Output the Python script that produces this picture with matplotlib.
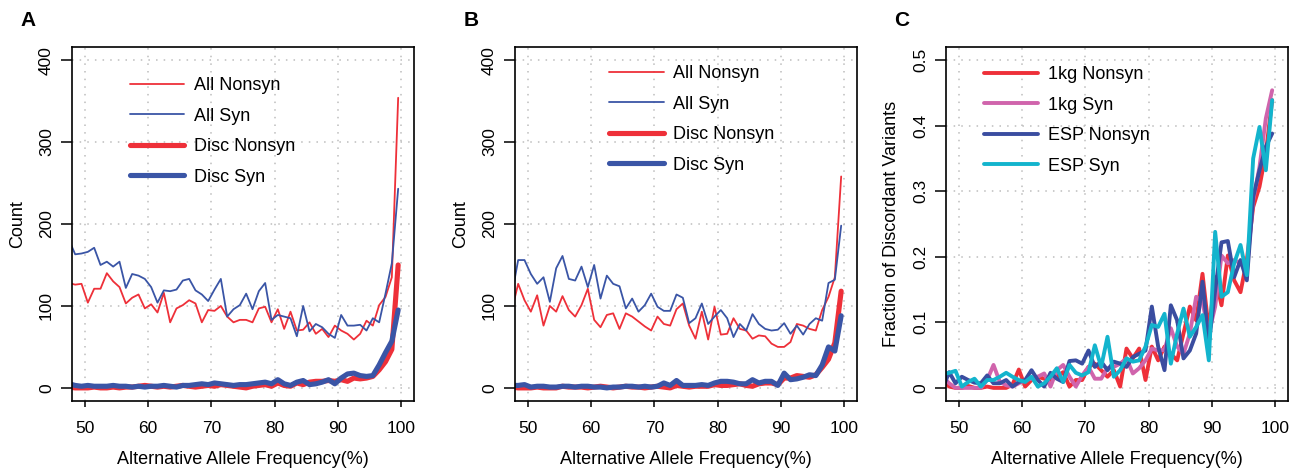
import numpy as np
import matplotlib
matplotlib.use("Agg")
import matplotlib.pyplot as plt
from matplotlib.ticker import FuncFormatter

plt.rcParams['font.family'] = ['Liberation Sans', 'DejaVu Sans']

# allele frequency bins (%)
freq = np.arange(47.5, 100, 1.0)

# ---- Panel A ----
a_all_nonsyn = [128, 126, 127, 104, 121, 121, 140, 130, 123, 103, 110,
                114, 97, 102, 92, 116, 80, 97, 101, 107, 103,
                80, 95, 94, 100, 87, 80, 83, 83, 80, 97,
                99, 80, 96, 72, 93, 70, 71, 80, 66, 72,
                62, 76, 70, 66, 59, 66, 82, 76, 101, 111,
                135, 354]
a_all_syn = [181, 163, 164, 166, 171, 150, 154, 148, 154, 122, 139,
             137, 133, 123, 104, 119, 118, 120, 131, 133, 119,
             114, 106, 120, 133, 87, 96, 101, 115, 96, 118,
             128, 83, 89, 87, 85, 63, 100, 69, 78, 74,
             66, 61, 89, 76, 76, 77, 70, 85, 80, 115,
             152, 243]
a_disc_nonsyn = [1, 0, 0, 0, 1, 0, 0, 1, 0, 1, 1,
                 2, 3, 2, 1, 2, 1, 2, 3, 2, 1,
                 2, 3, 2, 4, 3, 2, 1, 0, 2, 3,
                 4, 2, 6, 3, 2, 6, 4, 7, 8, 8,
                 9, 8, 10, 8, 12, 11, 12, 14, 22, 32,
                 47, 150]
a_disc_syn = [5, 3, 2, 3, 2, 2, 2, 3, 2, 2, 1,
              2, 1, 2, 2, 3, 2, 1, 3, 3, 4,
              5, 4, 6, 5, 4, 3, 4, 4, 5, 6,
              7, 5, 10, 5, 3, 7, 9, 4, 5, 7,
              10, 5, 12, 17, 18, 15, 14, 15, 28, 43,
              57, 95]

# ---- Panel B ----
b_all_nonsyn = [95, 127, 107, 93, 113, 76, 100, 93, 112, 95, 87,
                101, 121, 83, 74, 89, 91, 72, 91, 87, 81,
                75, 70, 87, 78, 76, 96, 103, 76, 60, 93,
                59, 99, 65, 66, 85, 72, 70, 60, 64, 63,
                54, 50, 50, 56, 78, 76, 72, 70, 95, 111,
                135, 258]
b_all_syn = [114, 156, 156, 139, 127, 135, 105, 146, 161, 133, 131,
             148, 123, 150, 109, 137, 127, 124, 97, 109, 93,
             101, 115, 99, 94, 94, 114, 110, 79, 85, 103,
             78, 87, 95, 85, 62, 78, 70, 90, 78, 72,
             70, 71, 79, 66, 76, 65, 78, 85, 82, 128,
             132, 198]
b_disc_nonsyn = [1, 0, 0, 0, 1, 0, 0, 0, 2, 1, 1,
                 1, 0, 1, 2, 1, 0, 1, 2, 1, 1,
                 0, 1, 2, 1, 0, 3, 2, 1, 2, 2,
                 2, 4, 3, 3, 4, 5, 3, 2, 5, 6,
                 6, 4, 12, 12, 15, 14, 13, 16, 25, 35,
                 55, 118]
b_disc_syn = [3, 3, 4, 1, 2, 2, 1, 1, 2, 2, 1,
              2, 2, 1, 1, 0, 1, 1, 2, 2, 1,
              2, 1, 2, 6, 3, 9, 3, 3, 3, 4,
              3, 6, 8, 8, 7, 5, 5, 10, 6, 8,
              8, 3, 18, 10, 11, 13, 16, 15, 28, 50,
              45, 88]

# ---- Panel C (fraction of discordant variants) ----
c_1kg_nonsyn = [.012, .002, 0, 0, .003, 0, 0, .002, 0, 0, 0,
                .005, .028, .002, .012, .017, .014, .012, .017, .024, .002,
                .012, .012, .032, .037, .027, .017, .027, .002, .060, .045,
                .060, .012, .063, .042, .063, .052, .042, .083, .124, .103,
                .174, .088, .169, .126, .202, .164, .146, .195, .276, .307,
                .358, .439]
c_1kg_syn = [.017, .007, 0, 0, 0, 0, 0, .012, .035, .009, .004,
             .002, .007, .012, .014, .017, .022, .002, .027, .035, .017,
             .002, .019, .032, .014, .014, .030, .032, .037, .045, .022,
             .030, .042, .060, .057, .058, .091, .063, .052, .083, .139,
             .131, .083, .124, .202, .190, .195, .190, .180, .286, .337,
             .411, .454]
c_esp_nonsyn = [0, .024, .007, .017, .012, .008, .007, .019, .007, .007, .012,
                .002, .009, .012, .027, .012, .002, .023, .014, .009, .041,
                .042, .037, .057, .032, .040, .027, .040, .037, .032, .047,
                .052, .057, .124, .063, .027, .126, .103, .045, .057, .083,
                .162, .068, .149, .222, .224, .169, .195, .164, .291, .332,
                .368, .388]
c_esp_syn = [.021, .023, .026, .002, .009, .014, .002, .012, .012, .017, .023,
             .017, .012, .009, .017, .002, .007, .017, .030, .009, .035,
             .023, .019, .024, .065, .032, .078, .017, .027, .045, .040,
             .042, .063, .096, .093, .113, .037, .083, .121, .078, .093,
             .111, .042, .238, .139, .146, .190, .218, .172, .350, .398,
             .332, .439]

count_labels = ["All Nonsyn", "All Syn", "Disc Nonsyn", "Disc Syn"]
frac_labels = ["1kg Nonsyn", "1kg Syn", "ESP Nonsyn", "ESP Syn"]
x_ticks = [50, 60, 70, 80, 90, 100]
count_ticks = [0, 100, 200, 300, 400]
frac_ticks = [0, 0.1, 0.2, 0.3, 0.4, 0.5]

RED = "#EE3039"
BLUE = "#3A55A6"
PINK = "#D064AC"
DBLUE = "#3A4DA0"
CYAN = "#13B4CD"

W, H = 1295, 473
fig = plt.figure(figsize=(W / 100, H / 100), dpi=100)

def px_axes(l, r, t, b):
    return fig.add_axes([l / W, 1 - b / H, (r - l) / W, (b - t) / H])

axA = px_axes(72, 414, 47, 401)
axB = px_axes(515, 857, 47, 401)
axC = px_axes(946, 1288, 47, 401)

def style(ax, yticks, ylim, ylabel, fmt=None):
    ax.set_xlim(48, 102)
    ax.set_ylim(*ylim)
    ax.set_xticks(x_ticks)
    ax.set_yticks(yticks)
    if fmt is not None:
        ax.yaxis.set_major_formatter(FuncFormatter(fmt))
    for v in x_ticks:
        ax.axvline(v, color="#BDBDBD", lw=1.1, ls=(0, (1, 4)), zorder=0)
    for v in yticks:
        ax.axhline(v, color="#BDBDBD", lw=1.1, ls=(0, (1, 4)), zorder=0)
    for s in ax.spines.values():
        s.set_linewidth(1.2)
        s.set_color("black")
    ax.tick_params(axis="y", direction="out", length=8, width=1.1, pad=5, labelsize=12.5)
    ax.tick_params(axis="x", direction="out", length=4.5, width=1.1, pad=10, labelsize=12.5)
    plt.setp(ax.get_yticklabels(), rotation=90, va="center")
    ax.set_xlabel("Alternative Allele Frequency(%)", fontsize=13, labelpad=11)
    ax.set_ylabel(ylabel, fontsize=13, labelpad=9)

def count_panel(ax, all_non, all_syn, disc_non, disc_syn, anchor):
    kw = dict(solid_capstyle="round", solid_joinstyle="round")
    h1, = ax.plot(freq, all_non, color=RED, lw=1.3, **kw)
    h2, = ax.plot(freq, all_syn, color=BLUE, lw=1.3, **kw)
    h3, = ax.plot(freq, disc_non, color=RED, lw=3.7, **kw)
    h4, = ax.plot(freq, disc_syn, color=BLUE, lw=3.7, **kw)
    style(ax, count_ticks, (-16, 416), "Count")
    ax.legend([h1, h2, h3, h4], count_labels, loc="upper left", bbox_to_anchor=anchor,
              frameon=False, borderpad=0, borderaxespad=0, handlelength=3.0,
              handletextpad=0.55, labelspacing=0.75, fontsize=13)

count_panel(axA, a_all_nonsyn, a_all_syn, a_disc_nonsyn, a_disc_syn, (0.17, 0.915))
count_panel(axB, b_all_nonsyn, b_all_syn, b_disc_nonsyn, b_disc_syn, (0.276, 0.949))

kw = dict(solid_capstyle="round", solid_joinstyle="round", lw=2.8)
hc = []
for vals, col in [(c_1kg_nonsyn, RED), (c_1kg_syn, PINK), (c_esp_nonsyn, DBLUE), (c_esp_syn, CYAN)]:
    h, = axC.plot(freq, vals, color=col, **kw)
    hc.append(h)
style(axC, frac_ticks, (-0.02, 0.52), "Fraction of Discordant Variants",
      fmt=lambda v, p: "0" if abs(v) < 1e-9 else f"{v:.1f}")
axC.legend(hc, frac_labels, loc="upper left", bbox_to_anchor=(0.111, 0.946),
           frameon=False, borderpad=0, borderaxespad=0, handlelength=3.0,
           handletextpad=0.55, labelspacing=0.75, fontsize=13)

for lab, x in [("A", 27.7), ("B", 470.7), ("C", 901.7)]:
    fig.text(x / W, 1 - 20 / H, lab, fontsize=15, fontweight="bold", ha="center", va="center")

fig.savefig("out.png", dpi=100)
